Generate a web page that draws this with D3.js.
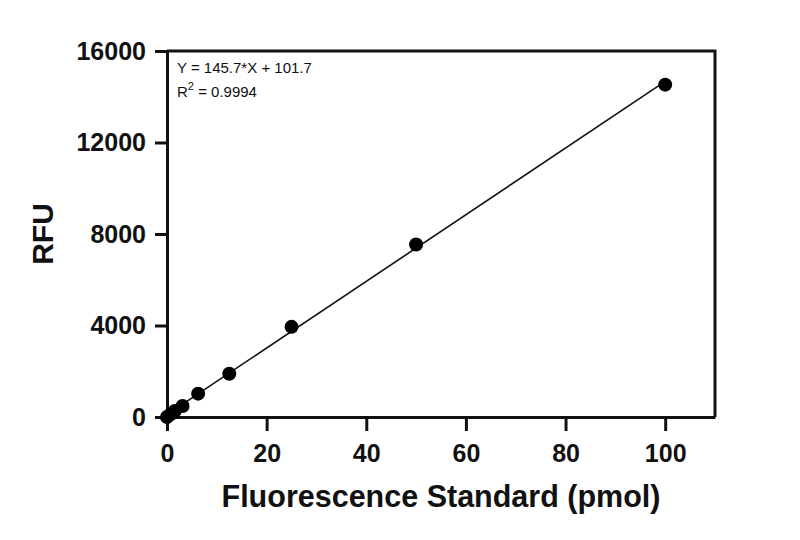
<!DOCTYPE html>
<html>
<head>
<meta charset="utf-8">
<script src="https://cdn.jsdelivr.net/npm/d3@7"></script>
<style>
  body { margin: 0; background: #fff; }
  text { font-family: "Liberation Sans", Arial, sans-serif; fill: #111; }
</style>
</head>
<body>
<svg id="chart"></svg>
<script>
const amounts = [0, 0.78, 1.5625, 3.125, 6.25, 12.5, 25, 50, 100]
const rfu = [0, 130, 260, 480, 1020, 1890, 3940, 7540, 14530]
const xTicks = [0, 20, 40, 60, 80, 100]
const yTicks = [0, 4000, 8000, 12000, 16000]
// linear fit reported on the chart
const slope = 145.7
const intercept = 101.7
const rSquared = "0.9994"

const width = 800
const height = 540
const margin = { top: 51, right: 85, bottom: 123, left: 167 }

const svg = d3.select("#chart")
  .attr("width", width)
  .attr("height", height)

const x = d3.scaleLinear()
  .domain([0, 110])
  .range([margin.left, width - margin.right])

const y = d3.scaleLinear()
  .domain([0, 16000])
  .range([height - margin.bottom, margin.top])

const xAxis = d3.axisBottom(x)
  .tickValues(xTicks)
  .tickFormat(d3.format("d"))
  .tickSize(14)
  .tickPadding(13)
  .tickSizeOuter(0)

const yAxis = d3.axisLeft(y)
  .tickValues(yTicks)
  .tickFormat(d3.format("d"))
  .tickSize(12)
  .tickPadding(9)
  .tickSizeOuter(0)

const gx = svg.append("g")
  .attr("transform", "translate(0," + y(0) + ")")
  .call(xAxis)

const gy = svg.append("g")
  .attr("transform", "translate(" + x(0) + ",0)")
  .call(yAxis)

// frame on top and right
svg.append("path")
  .attr("d", "M" + x(0) + "," + y(16000) + "H" + x(110) + "V" + y(0))
  .style("fill", "none")
  .style("stroke", "#111")
  .style("stroke-width", "3px")

for (const g of [gx, gy]) {
  g.selectAll(".domain, .tick line")
    .style("stroke", "#111")
    .style("stroke-width", "3px")
  g.selectAll(".tick text")
    .style("font-family", "'Liberation Sans', Arial, sans-serif")
    .style("font-size", "25px")
    .style("font-weight", "bold")
    .style("fill", "#111")
}

// fit line
svg.append("line")
  .attr("x1", x(0))
  .attr("y1", y(intercept))
  .attr("x2", x(100))
  .attr("y2", y(slope * 100 + intercept))
  .style("stroke", "#111")
  .style("stroke-width", "1.6px")

svg.selectAll("circle.pt")
  .data(amounts)
  .enter().append("circle")
  .attr("class", "pt")
  .attr("cx", d => x(d))
  .attr("cy", (d, i) => y(rfu[i]))
  .attr("r", 7)
  .style("fill", "#000")

// equation
const eq = svg.append("g")
  .style("font-size", "15px")
eq.append("text")
  .attr("x", x(0) + 10)
  .attr("y", 73)
  .text("Y = " + slope + "*X + " + intercept)
const r2 = eq.append("text")
  .attr("x", x(0) + 10)
  .attr("y", 97)
r2.append("tspan").text("R")
r2.append("tspan").attr("dy", -7).style("font-size", "11px").text("2")
r2.append("tspan").attr("dy", 7).text(" = " + rSquared)

// axis titles
svg.append("text")
  .attr("x", (x(0) + x(110)) / 2)
  .attr("y", 507)
  .style("text-anchor", "middle")
  .style("font-size", "30.5px")
  .style("font-weight", "bold")
  .text("Fluorescence Standard (pmol)")

svg.append("text")
  .attr("transform", "translate(53," + (y(0) + y(16000)) / 2 + ") rotate(-90)")
  .style("text-anchor", "middle")
  .style("font-size", "30px")
  .style("font-weight", "bold")
  .text("RFU")
</script>
</body>
</html>
